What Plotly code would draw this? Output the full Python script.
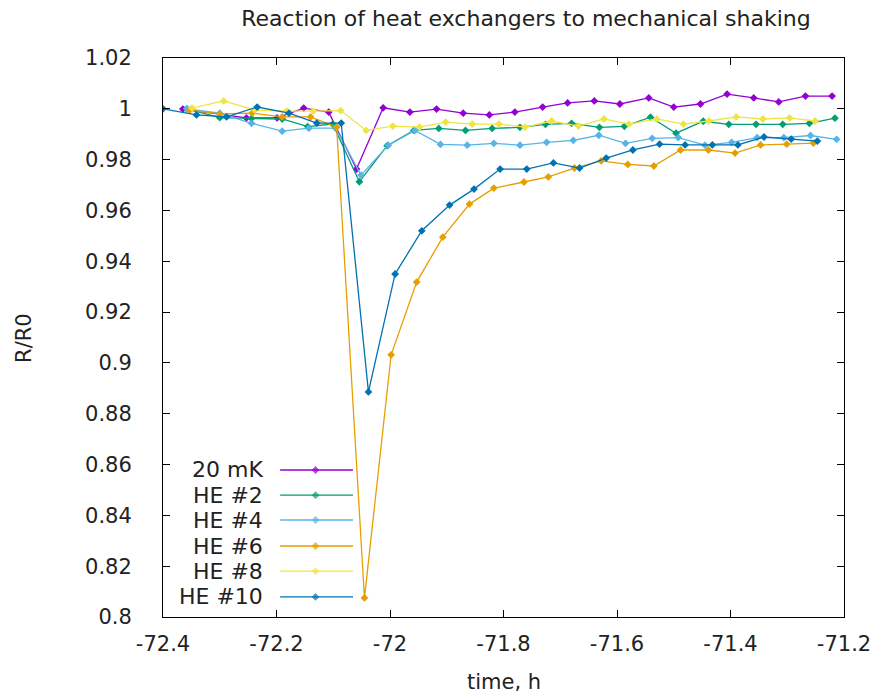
import plotly.graph_objects as go

# ---- data ----
t_20mk = [-72.365, -72.253, -72.199, -72.152, -72.108, -72.059, -72.012, -71.965, -71.918, -71.871,
          -71.825, -71.780, -71.731, -71.687, -71.640, -71.595, -71.544, -71.500, -71.453, -71.406,
          -71.359, -71.315, -71.268, -71.221]
r_20mk = [0.9999, 0.9964, 0.9964, 1.0003, 0.9987, 0.9763, 1.0004, 0.9987, 0.9999, 0.9983,
          0.9976, 0.9987, 1.0007, 1.0023, 1.0031, 1.0019, 1.0043, 1.0007, 1.0019, 1.0058,
          1.0043, 1.0027, 1.0050, 1.0050]

t_he2 = [-72.358, -72.300, -72.244, -72.190, -72.145, -72.101, -72.054, -72.005, -71.958, -71.914,
         -71.867, -71.820, -71.771, -71.726, -71.680, -71.631, -71.587, -71.541, -71.496, -71.448,
         -71.403, -71.355, -71.308, -71.261, -71.216]
r_he2 = [1.0000, 0.9965, 0.9962, 0.9960, 0.9930, 0.9940, 0.9713, 0.9855, 0.9915, 0.9923,
         0.9915, 0.9923, 0.9927, 0.9939, 0.9943, 0.9927, 0.9931, 0.9967, 0.9904, 0.9951,
         0.9939, 0.9939, 0.9939, 0.9943, 0.9963]

t_he4 = [-72.358, -72.300, -72.244, -72.190, -72.143, -72.096, -72.051, -72.003, -71.956, -71.911,
         -71.864, -71.817, -71.771, -71.724, -71.677, -71.632, -71.585, -71.538, -71.492, -71.445,
         -71.398, -71.353, -71.306, -71.259, -71.213]
r_he4 = [1.0000, 0.9983, 0.9943, 0.9912, 0.9924, 0.9924, 0.9739, 0.9857, 0.9915, 0.9860,
         0.9857, 0.9864, 0.9857, 0.9868, 0.9876, 0.9896, 0.9864, 0.9884, 0.9887, 0.9857,
         0.9868, 0.9887, 0.9887, 0.9895, 0.9880]

t_he6 = [-72.353, -72.300, -72.243, -72.190, -72.140, -72.094, -72.045, -71.998, -71.953, -71.907,
         -71.860, -71.817, -71.764, -71.721, -71.675, -71.628, -71.581, -71.535, -71.488, -71.439,
         -71.392, -71.347, -71.301, -71.254]
r_he6 = [0.9995, 0.9980, 0.9983, 0.9968, 0.9968, 0.9928, 0.8075, 0.9032, 0.9318, 0.9495,
         0.9625, 0.9688, 0.9712, 0.9732, 0.9767, 0.9795, 0.9781, 0.9775, 0.9838, 0.9838,
         0.9826, 0.9858, 0.9861, 0.9865]

t_he8 = [-72.349, -72.293, -72.238, -72.182, -72.135, -72.087, -72.042, -71.995, -71.948, -71.902,
         -71.855, -71.808, -71.762, -71.715, -71.668, -71.623, -71.579, -71.530, -71.483, -71.438,
         -71.390, -71.343, -71.296, -71.251]
r_he8 = [1.0003, 1.0031, 0.9995, 0.9991, 0.9991, 0.9993, 0.9915, 0.9932, 0.9928, 0.9948,
         0.9940, 0.9940, 0.9928, 0.9952, 0.9932, 0.9960, 0.9940, 0.9960, 0.9940, 0.9952,
         0.9968, 0.9960, 0.9964, 0.9952]

t_he10 = [-72.400, -72.341, -72.288, -72.234, -72.178, -72.129, -72.086, -72.038, -71.991, -71.944,
          -71.895, -71.852, -71.806, -71.759, -71.712, -71.666, -71.619, -71.572, -71.525, -71.480,
          -71.432, -71.387, -71.341, -71.293, -71.247]
r_he10 = [1.0000, 0.9976, 0.9968, 1.0007, 0.9983, 0.9944, 0.9944, 0.8886, 0.9350, 0.9520,
          0.9621, 0.9684, 0.9763, 0.9763, 0.9787, 0.9767, 0.9806, 0.9838, 0.9861, 0.9858,
          0.9858, 0.9858, 0.9889, 0.9881, 0.9873]

series_names = ["20 mK", "HE #2", "HE #4", "HE #6", "HE #8", "HE #10"]
series_t = [t_20mk, t_he2, t_he4, t_he6, t_he8, t_he10]
series_r = [r_20mk, r_he2, r_he4, r_he6, r_he8, r_he10]
colors = ["#9400D3", "#009E73", "#56B4E9", "#E69F00", "#F0E442", "#0072B2"]

x_ticks = [-72.4, -72.2, -72.0, -71.8, -71.6, -71.4, -71.2]
x_ticklabels = ["-72.4", "-72.2", "-72", "-71.8", "-71.6", "-71.4", "-71.2"]
y_ticks = [0.80, 0.82, 0.84, 0.86, 0.88, 0.90, 0.92, 0.94, 0.96, 0.98, 1.00, 1.02]
y_ticklabels = ["0.8", "0.82", "0.84", "0.86", "0.88", "0.9", "0.92", "0.94", "0.96", "0.98", "1", "1.02"]

FONT = "DejaVu Sans"
TXT = "#222222"
FS = 21

fig = go.Figure()
for name, t, r, c in zip(series_names, series_t, series_r, colors):
    fig.add_trace(go.Scatter(
        x=t, y=r, name=name, mode="lines+markers",
        line=dict(color=c, width=1.3),
        marker=dict(symbol="diamond", size=6, color=c),
        showlegend=False,
    ))

# custom gnuplot-style key (text left, sample right)
key_rows = [0.263, 0.218, 0.1735, 0.127, 0.082, 0.036]
for name, c, ky in zip(series_names, colors, key_rows):
    fig.add_trace(go.Scatter(
        x=[0.172, 0.224, 0.279], y=[ky, ky, ky], xaxis="x2", yaxis="y2",
        mode="lines+markers", line=dict(color=c, width=1.3),
        marker=dict(symbol="diamond", size=[0, 6, 0], color=c, line=dict(width=0)),
        showlegend=False, hoverinfo="skip",
    ))
    fig.add_annotation(x=0.150, y=ky, xref="paper", yref="paper", text=name,
                       showarrow=False, xanchor="right", yanchor="middle",
                       font=dict(family=FONT, size=22, color=TXT))

# axis titles
fig.add_annotation(x=0.5, y=-0.117, xref="paper", yref="paper", text="time, h",
                   showarrow=False, xanchor="center", yanchor="middle",
                   font=dict(family=FONT, size=FS, color=TXT))
fig.add_annotation(x=-0.205, y=0.5, xref="paper", yref="paper", text="R/R0",
                   showarrow=False, xanchor="center", yanchor="middle", textangle=-90,
                   font=dict(family=FONT, size=FS, color=TXT))

axis_common = dict(showline=True, linecolor="black", linewidth=1, mirror="ticks",
                   ticks="inside", ticklen=7, tickcolor="black", showgrid=False,
                   zeroline=False, tickfont=dict(family=FONT, size=FS, color=TXT))

W, H = 883, 698
fig.update_layout(
    width=W, height=H,
    margin=dict(l=163, r=33, t=58, b=81),
    paper_bgcolor="white", plot_bgcolor="white",
    title=dict(text="Reaction of heat exchangers to mechanical shaking",
               xref="container", x=526 / W, xanchor="center",
               yref="container", y=1 - 18 / H, yanchor="middle",
               font=dict(family=FONT, size=22, color=TXT)),
    xaxis=dict(range=[-72.4, -71.2], tickvals=x_ticks, ticktext=x_ticklabels,
               ticklabelstandoff=8, **axis_common),
    yaxis=dict(range=[0.8, 1.02], tickvals=y_ticks, ticktext=y_ticklabels,
               ticklabelstandoff=26, **axis_common),
    xaxis2=dict(overlaying="x", range=[0, 1], visible=False),
    yaxis2=dict(overlaying="y", range=[0, 1], visible=False),
    font=dict(family=FONT),
)

fig.write_html("out.html",
               config={"displayModeBar": False},
               post_script="document.body.style.margin='0';document.body.style.overflow='hidden';")
